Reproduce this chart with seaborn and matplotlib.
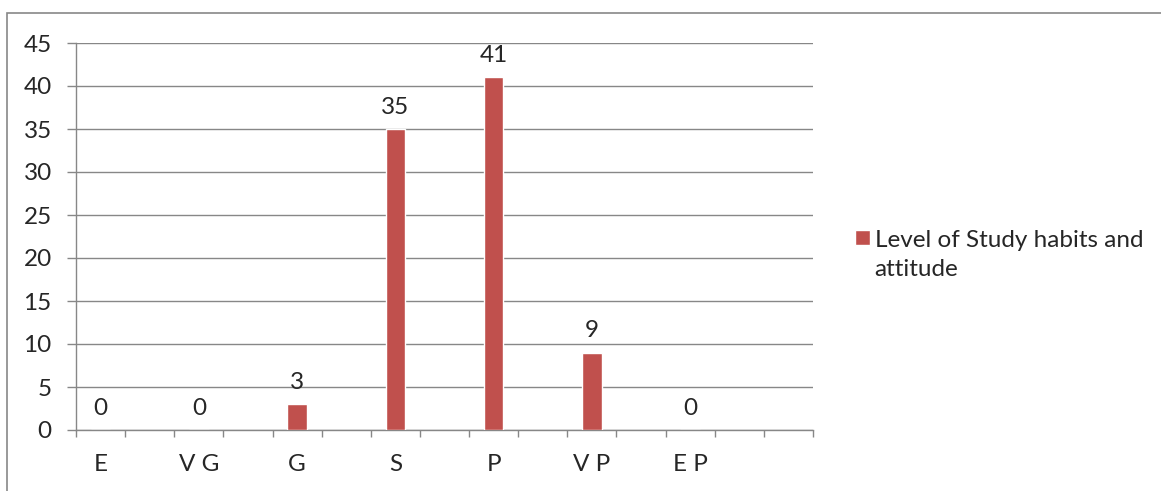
import numpy as np
import pandas as pd
import seaborn as sns
import matplotlib.pyplot as plt
from matplotlib.patches import Rectangle

# Dados do gráfico
categories = ['E', 'V G', 'G', 'S', 'P', 'V P', 'E P']
values = [0, 0, 3, 35, 41, 9, 0]
series_name = 'Level of Study habits and\nattitude'
y_ticks = [0, 5, 10, 15, 20, 25, 30, 35, 40, 45]

# Excel chart has an empty slot after each category (plus one extra at the end)
slots = []
for i, c in enumerate(categories):
    slots += [c, f'_blank{i}']
slots.append('_blank_end')

df = pd.DataFrame({'level': categories, 'count': values})

sns.set_style('white')
plt.rcParams['font.family'] = ['Lato', 'DejaVu Sans']
gray = '#878787'
red = '#C0504D'
fs = 17.5

fig = plt.figure(figsize=(11.61, 4.91), dpi=100)
ax = fig.add_axes([76 / 1161, 1 - 430 / 491, (813 - 76) / 1161, (430 - 43) / 491])

sns.barplot(data=df, x='level', y='count', order=slots, color=red,
            width=0.4, saturation=1, label=series_name, ax=ax, zorder=3)

ax.set_xlim(-0.5, len(slots) - 0.5)
ax.set_ylim(0, 45)
ax.set_xlabel('')
ax.set_ylabel('')

# ticks between the categories, labels at the centers
ax.set_xticks(np.arange(-0.5, len(slots), 1))
ax.set_xticklabels([])
ax.set_xticks(range(len(slots)), minor=True)
ax.set_xticklabels([s if not s.startswith('_') else '' for s in slots],
                   minor=True, fontsize=fs)
ax.tick_params(axis='x', which='major', bottom=True, length=5, width=1,
               color=gray, direction='out')
ax.tick_params(axis='x', which='minor', bottom=True, length=0, pad=17)
ax.set_yticks(y_ticks)
ax.set_yticklabels([str(v) for v in y_ticks], fontsize=fs)
ax.tick_params(axis='y', left=True, length=6.5, width=1, color=gray,
               direction='out', pad=11)

ax.grid(axis='y', color=gray, linewidth=1.0, zorder=0)
ax.grid(axis='x', visible=False)
for side in ['top', 'right']:
    ax.spines[side].set_visible(False)
for side in ['left', 'bottom']:
    ax.spines[side].set_color(gray)
    ax.spines[side].set_linewidth(1.0)

ax.bar_label(ax.containers[0], labels=[str(v) for v in values],
             padding=8, fontsize=fs)

leg = ax.legend(loc='upper left', bbox_to_anchor=(845 / 1161, 1 - 220 / 491),
                bbox_transform=fig.transFigure, frameon=False, fontsize=fs,
                handlelength=0.62, handleheight=0.62, handletextpad=0.2,
                borderaxespad=0)
leg.get_texts()[0].set_linespacing(1.5)
# square next to the first line, like Excel
for col in leg._legend_handle_box.get_children():
    for row in col.get_children():
        row.align = 'top'

# outer chart border
fig.patches.append(Rectangle((7 / 1161, -0.1), 1.2, 1.1 - 13 / 491,
                             transform=fig.transFigure, fill=False,
                             edgecolor=gray, linewidth=1.2))

fig.savefig('out.png', dpi=100)
